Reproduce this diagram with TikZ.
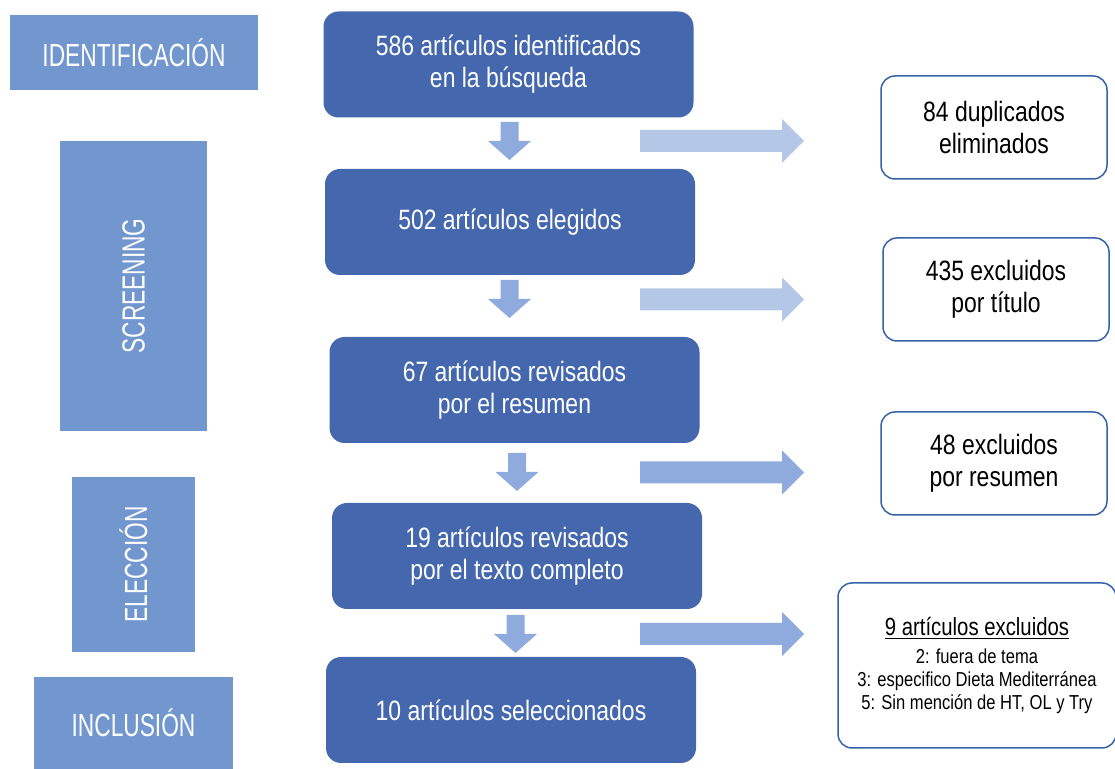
\documentclass[tikz,border=0pt]{standalone}
\usepackage{fontspec}
\setmainfont{Liberation Sans}[FakeStretch=0.82]
\newfontfamily\stagefont{Liberation Sans}[FakeStretch=0.71]

\definecolor{boxblue}{HTML}{4467AE}
\definecolor{stageblue}{HTML}{7197CE}
\definecolor{edgeblue}{HTML}{3563A8}
\definecolor{arrowlight}{HTML}{B4C7E7}
\definecolor{arrowmid}{HTML}{8FAADC}

% block arrows: #1 style, #2 centre x / centre y, #3 top y
\newcommand{\flowdown}[3]{\fill[#1] (#2-9,#3) -- (#2+9,#3) -- (#2+9,#3+19) -- (#2+21.5,#3+19)
  -- (#2,#3+38) -- (#2-21.5,#3+19) -- (#2-9,#3+19) -- cycle;}
\newcommand{\flowright}[2]{\fill[#1] (640,#2-11) -- (782,#2-11) -- (782,#2-22) -- (804,#2)
  -- (782,#2+22) -- (782,#2+11) -- (640,#2+11) -- cycle;}

\begin{document}
\begin{tikzpicture}[x=0.5pt,y=-0.5pt,
  stage/.style={fill=stageblue, text=white, inner sep=0pt, font=\stagefont\fontsize{16}{18}\selectfont},
  stepbox/.style={fill=boxblue, text=white, rounded corners=7.5pt, align=center, inner sep=0pt,
    minimum width=185pt, minimum height=53pt, font=\fontsize{14}{16}\selectfont},
  outbox/.style={draw=edgeblue, line width=0.75pt, fill=white, rounded corners=7pt, align=center,
    inner sep=0pt, minimum width=113pt, minimum height=51.5pt, font=\fontsize{14}{16}\selectfont},
  flowlight/.style={fill=arrowlight},
  flowmid/.style={fill=arrowmid}]
\useasboundingbox (0,0) rectangle (1115,769);

\node[stage, minimum width=124pt, minimum height=37.5pt] (ident) at (134,52.5) {IDENTIFICACIÓN};
\node[stage, rotate=90, minimum width=145pt, minimum height=73.5pt] (screen) at (133.5,286) {SCREENING};
\node[stage, rotate=90, minimum width=87.5pt, minimum height=61.5pt] (elec) at (133.5,564.5) {ELECCIÓN};
\node[stage, minimum width=99.5pt, minimum height=46pt] (incl) at (133.5,723) {INCLUSIÓN};

\node[stepbox] (s1) at (508.5,64.5) {586 artículos identificados\\en la búsqueda};
\node[stepbox] (s2) at (510,222) {502 artículos elegidos};
\node[stepbox] (s3) at (514.5,390) {67 artículos revisados\\por el resumen};
\node[stepbox] (s4) at (517,556) {19 artículos revisados\\por el texto completo};
\node[stepbox] (s5) at (511,710) {10 artículos seleccionados};

\flowdown{flowmid}{509.5}{122}
\flowdown{flowmid}{509.5}{280}
\flowdown{flowmid}{517}{453}
\flowdown{flowmid}{515.5}{615}

\flowright{flowlight}{141}
\flowright{flowlight}{299.5}
\flowright{flowmid}{472.5}
\flowright{flowmid}{634}

\node[outbox] (o1) at (994,127.5) {84 duplicados\\eliminados};
\node[outbox] (o2) at (996,289.5) {435 excluidos\\por título};
\node[outbox] (o3) at (994,463.5) {48 excluidos\\por resumen};
\node[outbox, minimum width=139pt, minimum height=82.5pt, font=\fontsize{10.1}{11.4}\selectfont] (o4) at (977,665.5)
  {{\fontsize{12.4}{14}\selectfont\underline{9 artículos excluidos}}\\[2.5pt]
   2: fuera de tema\\3: especifico Dieta Mediterránea\\5: Sin mención de HT, OL y Try};
\end{tikzpicture}
\end{document}
